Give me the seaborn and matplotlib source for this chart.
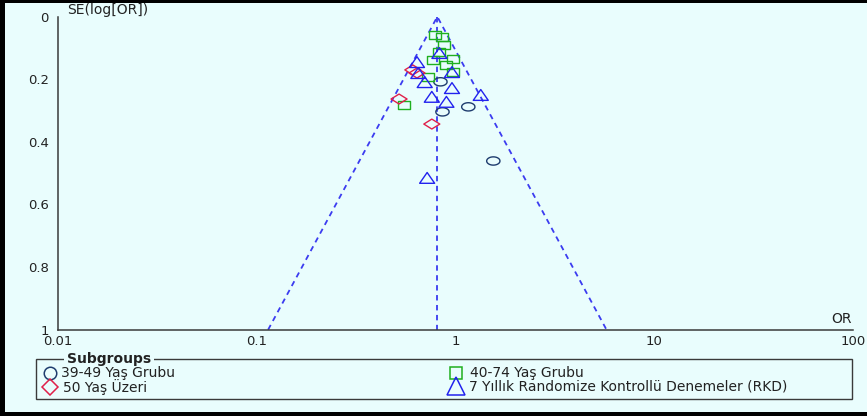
import numpy as np
import pandas as pd
import seaborn as sns
import matplotlib.pyplot as plt
from matplotlib.path import Path
from matplotlib.patches import Rectangle

# --- datos ---
groups = ["39-49 Yaş Grubu", "40-74 Yaş Grubu", "50 Yaş Üzeri",
          "7 Yıllık Randomize Kontrollü Denemeler (RKD)"]

or_3949 = [0.84, 1.16, 0.86, 1.55]
se_3949 = [0.208, 0.288, 0.304, 0.461]

or_4074 = [0.79, 0.86, 0.88, 0.83, 0.77, 0.97, 0.90, 0.97, 0.73, 0.55]
se_4074 = [0.058, 0.065, 0.090, 0.113, 0.138, 0.135, 0.154, 0.177, 0.193, 0.282]

or_50 = [0.61, 0.64, 0.52, 0.76]
se_50 = [0.170, 0.180, 0.263, 0.343]

or_rkd = [0.83, 0.64, 0.65, 0.96, 0.70, 0.96, 0.76, 0.90, 1.34, 0.72]
se_rkd = [0.116, 0.145, 0.180, 0.177, 0.209, 0.228, 0.256, 0.272, 0.250, 0.515]

pooled_or = 0.81

x_ticks = [0.01, 0.1, 1, 10, 100]
x_labels = ["0.01", "0.1", "1", "10", "100"]
y_ticks = [0, 0.2, 0.4, 0.6, 0.8, 1]
y_labels = ["0", "0.2", "0.4", "0.6", "0.8", "1"]

df = pd.concat([
    pd.DataFrame({"OR": or_3949, "SE": se_3949, "grupo": groups[0]}),
    pd.DataFrame({"OR": or_4074, "SE": se_4074, "grupo": groups[1]}),
    pd.DataFrame({"OR": or_50, "SE": se_50, "grupo": groups[2]}),
    pd.DataFrame({"OR": or_rkd, "SE": se_rkd, "grupo": groups[3]}),
], ignore_index=True)

# --- estilos ---
BG = "#e9fdfd"
colores = {groups[0]: "#1e3c6e", groups[1]: "#1fb01f",
           groups[2]: "#e0204a", groups[3]: "#2222ee"}

t = np.linspace(0, 2 * np.pi, 41)
elipse = Path(np.c_[np.cos(t), 0.62 * np.sin(t)])
rect = Path([(-1, -0.66), (1, -0.66), (1, 0.66), (-1, 0.66), (-1, -0.66)], closed=True)
rombo = Path([(0, 0.62), (1, 0), (0, -0.62), (-1, 0), (0, 0.62)], closed=True)
trian = Path([(0, 0.72), (1, -0.72), (-1, -0.72), (0, 0.72)], closed=True)
marcadores = {groups[0]: elipse, groups[1]: rect, groups[2]: rombo, groups[3]: trian}
tamanos = {groups[0]: 92, groups[1]: 75, groups[2]: 133, groups[3]: 117}

sns.set_theme(style="white")
plt.rcParams["font.family"] = ["DejaVu Sans"]

W, H = 867, 419
fig = plt.figure(figsize=(W / 100, H / 100), dpi=100, facecolor=BG)

ax = fig.add_axes([58 / W, 1 - 329.7 / H, (853 - 58) / W, (329.7 - 16.7) / H])
ax.set_facecolor("none")

# embudo
lo = pooled_or * np.exp(-1.96)
hi = pooled_or * np.exp(1.96)
ax.plot([lo, pooled_or, hi], [1, 0, 1], ls=(0, (3, 2.5)), color="#3b3bf0", lw=1.3, zorder=1)
ax.plot([pooled_or, pooled_or], [0, 1], ls=(0, (3, 2.5)), color="#3b3bf0", lw=1.3, zorder=1)

sns.scatterplot(data=df, x="OR", y="SE", hue="grupo", style="grupo", size="grupo",
                palette=colores, markers=marcadores, sizes=tamanos,
                legend=False, linewidth=1.0, ax=ax, zorder=3)
coll = ax.collections[-1]
fc = coll.get_facecolors()
coll.set_edgecolors(fc)
coll.set_facecolors("none")

ax.set_xscale("log")
ax.set_xlim(0.01, 100)
ax.set_ylim(1, 0)
ax.set_xticks(x_ticks)
ax.set_xticklabels(x_labels)
ax.set_yticks(y_ticks)
ax.set_yticklabels(y_labels)
ax.minorticks_off()
ax.set_xlabel("")
ax.set_ylabel("")
for s in ["top", "right"]:
    ax.spines[s].set_visible(False)
for s in ["left", "bottom"]:
    ax.spines[s].set_color("#3a3a3a")
    ax.spines[s].set_linewidth(1.1)
ax.tick_params(axis="both", direction="inout", colors="#3a3a3a", labelcolor="#222222",
               labelsize=9.5, width=1.0)
ax.tick_params(axis="y", length=9, pad=2)
ax.tick_params(axis="x", length=6, pad=0.5)

# --- capa en pixeles para textos, leyenda y bordes ---
lax = fig.add_axes([0, 0, 1, 1], zorder=5)
lax.set_xlim(0, W)
lax.set_ylim(H, 0)
lax.axis("off")
lax.set_facecolor("none")

lax.text(67, 10, "SE(log[OR])", fontsize=10, color="#222222", va="center", ha="left")
lax.text(852, 323, "OR", fontsize=10, color="#222222", va="baseline", ha="right")

# leyenda
lax.add_patch(Rectangle((36, 359), 816, 40, fill=False, ec="#3a3a3a", lw=1.0))
lax.text(67, 359, "Subgroups", fontsize=10, fontweight="bold", color="#222222",
         va="center", ha="left",
         bbox=dict(facecolor=BG, edgecolor="none", pad=2))
leg_pos = {groups[0]: (50, 372.5), groups[2]: (50, 387),
           groups[1]: (456, 372.5), groups[3]: (456, 386)}
leg_marks = {groups[0]: ("o", 9), groups[1]: ("s", 8.5), groups[2]: ("D", 8.5), groups[3]: ("^", 12.5)}
leg_text = {groups[0]: 61, groups[2]: 63, groups[1]: 470, groups[3]: 469}
for g in groups:
    px, py = leg_pos[g]
    m, ms = leg_marks[g]
    lax.plot([px], [py], marker=m, ms=ms, mfc="none", mec=colores[g], mew=1.1, ls="none")
    lax.text(leg_text[g], py, g, fontsize=10, color="#222222", va="center", ha="left")

# marco negro
lax.add_patch(Rectangle((0, 0), W, 3, color="black", lw=0))
lax.add_patch(Rectangle((0, 0), 5, 416, color="black", lw=0))
lax.add_patch(Rectangle((0, 412), W, 4, color="black", lw=0))
lax.add_patch(Rectangle((0, 416), W, 3, color="white", lw=0))

fig.savefig("out.png", dpi=100, facecolor=BG)
